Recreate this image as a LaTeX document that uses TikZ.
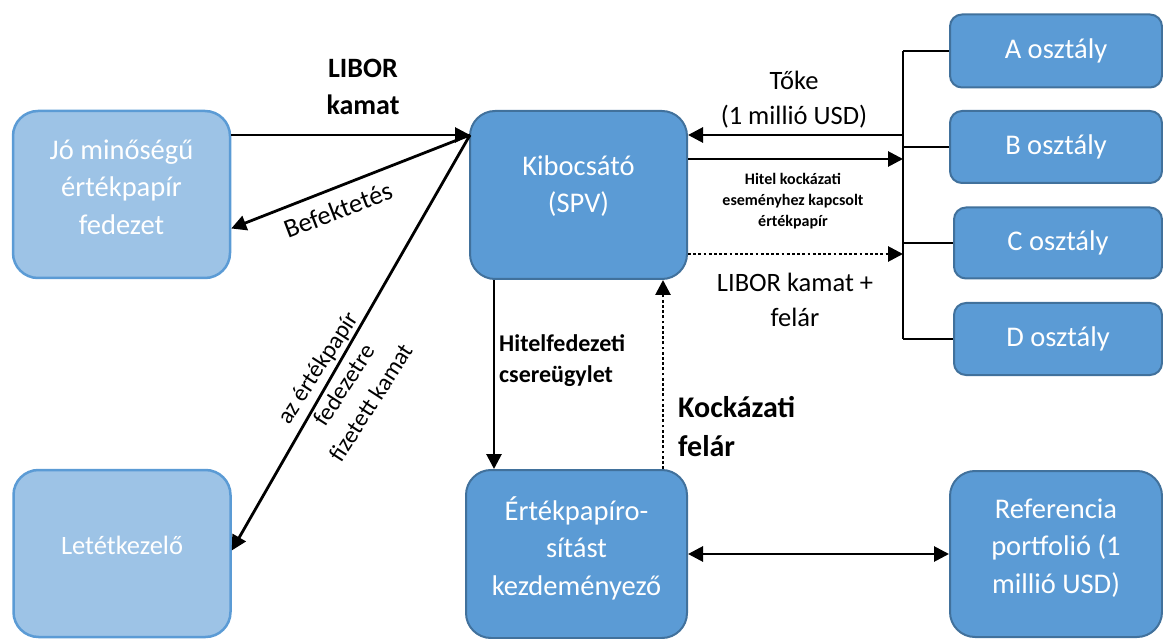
\documentclass[tikz,border=0pt]{standalone}
\usepackage{fontspec}
\setmainfont{Carlito}
\usetikzlibrary{arrows.meta}
\definecolor{lightfill}{HTML}{9DC3E6}
\definecolor{lightline}{HTML}{5B9BD5}
\definecolor{darkfill}{HTML}{5B9BD5}
\definecolor{darkline}{HTML}{41719C}

\begin{document}
\begin{tikzpicture}[x=1pt,y=-1pt,
  darkbox/.style={draw=darkline, fill=darkfill, line width=2pt, rounded corners=25pt, inner sep=0pt},
  lightbox/.style={draw=lightline, fill=lightfill, line width=2.5pt, rounded corners=25pt, inner sep=0pt},
  classbox/.style={draw=darkline, fill=darkfill, line width=2pt, rounded corners=12pt, inner sep=0pt,
    text=white, font=\fontsize{28.5}{37}\selectfont},
  boxtext/.style={text=white, align=center, font=\fontsize{28.5}{37.5}\selectfont, inner sep=0pt},
  flow/.style={line width=2.8pt, -{Triangle[length=15pt,width=15pt]}},
  twoway/.style={line width=2.8pt, {Triangle[length=15pt,width=15pt]}-{Triangle[length=15pt,width=15pt]}},
  dots/.style={dash pattern=on 2.8pt off 2.4pt},
  wire/.style={line width=2.8pt},
  lbl/.style={align=center, inner sep=0pt, font=\fontsize{26.5}{35}\selectfont},
  boldlbl/.style={align=center, inner sep=0pt, font=\bfseries\fontsize{28}{37}\selectfont}
]
\useasboundingbox (0,0) rectangle (1163,639);

% main boxes
\node[lightbox, minimum width=217pt, minimum height=167pt] (jo) at (121.5,194.5) {};
\node[boxtext] (joT) at (121.5,187) {Jó minőségű\\értékpapír\\fedezet};
\node[lightbox, minimum width=217pt, minimum height=167pt] (let) at (122,553.5) {};
\node[boxtext, font=\fontsize{26.5}{35}\selectfont] (letT) at (122,545) {Letétkezelő};
\node[darkbox, minimum width=217pt, minimum height=168pt] (kib) at (578.5,195) {};
\node[boxtext] (kibT) at (578.5,186) {Kibocsátó\\(SPV)};
\node[darkbox, minimum width=221pt, minimum height=168pt] (ert) at (576.5,554) {};
\node[boxtext] (ertT) at (576.5,548) {Értékpapíro-\\sítást\\kezdeményező};
\node[darkbox, minimum width=212pt, minimum height=166pt] (ref) at (1056,554) {};
\node[boxtext] (refT) at (1056,548) {Referencia\\portfolió (1\\millió USD)};

% tranche boxes
\node[classbox, minimum width=212pt, minimum height=73pt] (A) at (1056,51) {A osztály};
\node[classbox, minimum width=212pt, minimum height=72pt] (B) at (1056,147) {B osztály};
\node[classbox, minimum width=208pt, minimum height=71pt] (C) at (1058,243) {C osztály};
\node[classbox, minimum width=208pt, minimum height=72pt] (D) at (1058,339) {D osztály};

% bus joining the tranches
\coordinate (bus) at (903,0);
\draw[wire] (A.west -| bus) -- (D.west -| bus);
\foreach \t in {A,B,C,D} \draw[wire] (\t.west) -- (\t.west -| bus);

% flows around the issuer
\coordinate (hub) at (470,135);
\draw[flow] (jo.east |- hub) -- (hub);
\draw[flow] (hub) -- ([yshift=-34pt]jo.east);
\draw[flow] (hub) -- ([yshift=3pt]let.east);

\coordinate (t1) at (903,135);
\coordinate (t2) at (903,159);
\coordinate (t3) at (903,254);
\draw[flow] (t1) -- (t1 -| kib.east);
\draw[flow] (t2 -| kib.east) -- (t2);
\draw[flow, dots] (t3 -| kib.east) -- (t3);

\draw[flow] ([xshift=-84.5pt]kib.south) -- ([xshift=-84.5pt]kib.south |- ert.north);
\draw[flow, dots] ([xshift=84.5pt]kib.south |- ert.north) -- ([xshift=84.5pt]kib.south);
\draw[twoway] (ert.east) -- (ref.west);

% labels
\node[boldlbl] (l1) at (363,87) {LIBOR\\kamat};
\node[lbl, rotate=21] (l2) at (338,210) {Befektetés};
\node[lbl, rotate=57, font=\fontsize{24}{32}\selectfont] (l3) at (344,385) {az értékpapír\\fedezetre\\fizetett kamat};
\node[lbl] (l4) at (794,100) {Tőke\\(1 millió USD)};
\node[boldlbl, font=\bfseries\fontsize{16}{21}\selectfont] (l5) at (793,201) {Hitel kockázati\\eseményhez kapcsolt\\értékpapír};
\node[lbl] (l6) at (795,300) {LIBOR kamat +\\felár};
\node[boldlbl, anchor=west, align=left, font=\bfseries\fontsize{24}{31}\selectfont] (l7) at (499,361) {Hitelfedezeti\\csereügylet};
\node[boldlbl, anchor=west, align=left, font=\bfseries\fontsize{30}{39}\selectfont] (l8) at (678,427) {Kockázati\\felár};
\end{tikzpicture}
\end{document}
